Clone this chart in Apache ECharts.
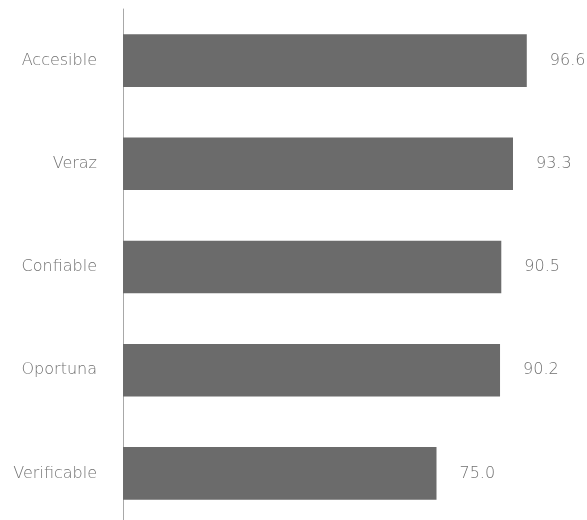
<!DOCTYPE html>
<html><head><meta charset="utf-8">
<script src="https://cdn.jsdelivr.net/npm/echarts@6/dist/echarts.min.js"></script>
<style>html,body{margin:0;padding:0;background:#fff;overflow:hidden;height:520px}#c{width:587px;height:530px}</style>
</head><body><div id="c"></div>
<script>
const categories = ["Accesible", "Veraz", "Confiable", "Oportuna", "Verificable"];
const values = [96.6, 93.3, 90.5, 90.2, 75.0];

const chart = echarts.init(document.getElementById('c'), null, {renderer: 'canvas'});
chart.setOption({
  animation: false,
  grid: {left: 123, top: 9, right: 46, bottom: 5, containLabel: false},
  xAxis: {type: 'value', min: 0, max: 100, show: false},
  yAxis: {
    type: 'category', data: categories, inverse: true,
    axisLine: {show: true, lineStyle: {color: '#a8a8a8', width: 1}},
    axisTick: {show: false},
    axisLabel: {color: '#707070', fontSize: 16, fontFamily: 'DejaVu Sans', fontWeight: 200, margin: 26}
  },
  series: [{
    type: 'bar', data: values, barWidth: '51%',
    itemStyle: {color: '#6b6b6b'},
    label: {show: true, position: 'right', distance: 23, color: '#707070', fontSize: 16, fontFamily: 'DejaVu Sans', fontWeight: 200,
      formatter: p => p.value.toFixed(1)}
  }]
});
</script></body></html>
